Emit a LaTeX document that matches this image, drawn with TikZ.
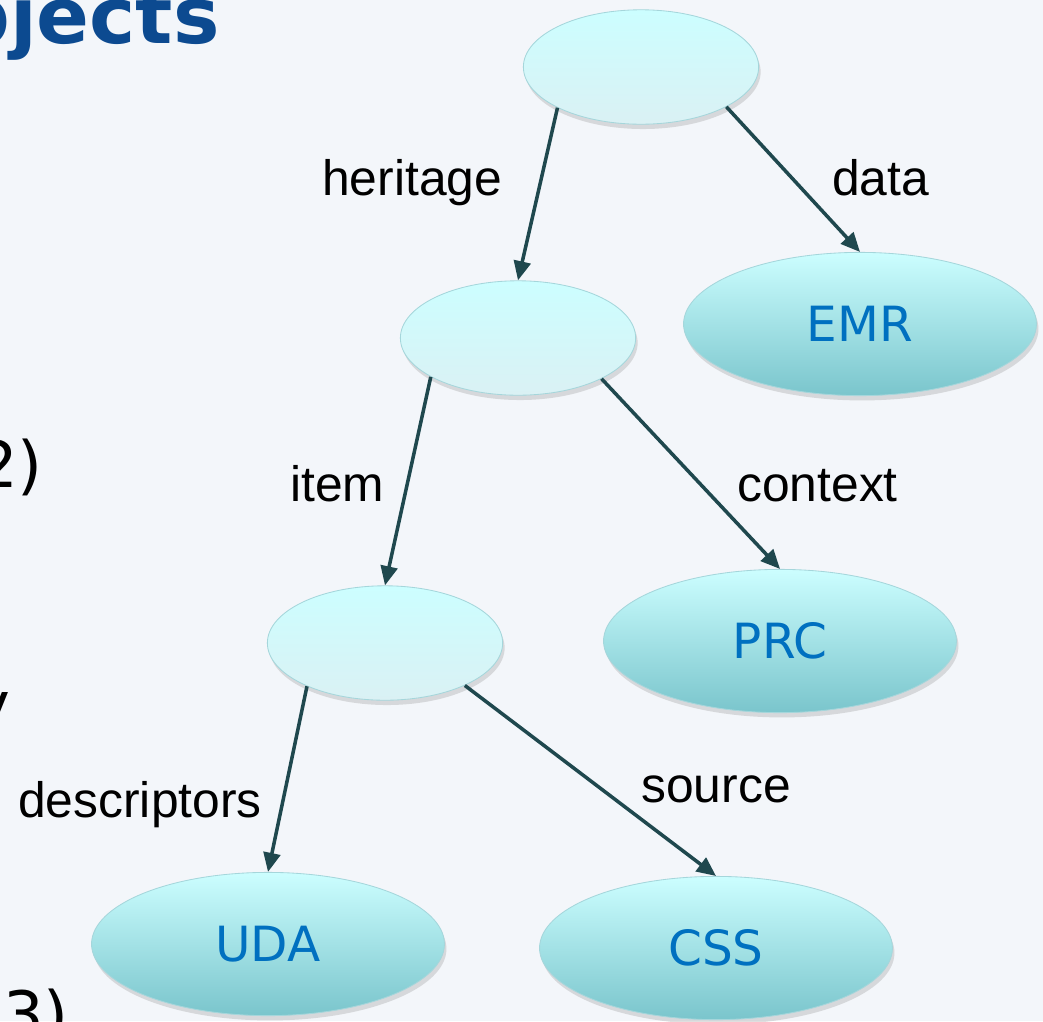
\documentclass[tikz,border=0pt]{standalone}
\definecolor{slidebg}{RGB}{243,246,250}
\definecolor{nodetop}{RGB}{204,254,255}
\definecolor{innerbottom}{RGB}{218,241,244}
\definecolor{leafbottom}{RGB}{122,197,204}
\definecolor{nodeborder}{RGB}{165,214,219}
\definecolor{edgeteal}{RGB}{31,72,78}
\definecolor{termblue}{RGB}{0,112,192}
\definecolor{titleblue}{RGB}{12,74,144}
\usepackage{fontspec}
\setmainfont{Liberation Sans}
\newfontfamily\verdanafont{DejaVu Sans}
\usepackage{tikz}
\usetikzlibrary{shapes.geometric,arrows.meta,shadows}

\begin{document}
\begin{tikzpicture}[
        x=0.025cm, y=-0.025cm,
        blank/.style={ellipse, draw=nodeborder, line width=0.6pt, top color=nodetop, bottom color=innerbottom, minimum width=5.88cm, minimum height=2.86cm, inner sep=0pt, drop shadow={shadow xshift=0.05cm, shadow yshift=-0.12cm, opacity=0.25}},
        term/.style={blank, bottom color=leafbottom, minimum width=8.82cm, minimum height=3.58cm, text=termblue, font=\verdanafont\fontsize{34.5}{40}\selectfont},
        edgelabel/.style={anchor=base west, inner sep=0pt, font=\fontsize{35.4}{42}\selectfont},
        slidetext/.style={inner sep=0pt, font=\verdanafont\fontsize{45.5}{54}\selectfont},
        arrow/.style={-{Triangle[length=0.48cm,width=0.42cm]}, line width=2.5pt, edgeteal}
    ]
        % Background
        \clip (0,0) rectangle (1043,1021);
        \fill[slidebg] (0,0) rectangle (1043,1021);

        % Slide text behind the tree
        \node[slidetext, anchor=base east, text=titleblue, font=\verdanafont\bfseries\fontsize{55.5}{66}\selectfont] (title) at (220,43) {Objects};
        \node[slidetext, anchor=base east] (bulletb) at (43,487) {2)};
        \node[slidetext, anchor=base east] (bulletc) at (11,727) {y};
        \node[slidetext, anchor=base west] (bulletd) at (3,1037) {3)};

        % Inner nodes
        \node[blank] (root) at (641,67) {};
        \node[blank] (heritage) at (518,338) {};
        \node[blank] (item) at (385,643) {};

        % Leaves
        \node[term] (emr) at (860,324) {EMR};
        \node[term] (prc) at (780,641) {PRC};
        \node[term] (uda) at (268,944) {UDA};
        \node[term] (css) at (716,948) {CSS};

        % Arrows
        \draw[arrow] (root.206) -- (heritage.north);
        \draw[arrow] (root.335) -- (emr.north);
        \draw[arrow] (heritage.204) -- (item.north);
        \draw[arrow] (heritage.334) -- (prc.north);
        \draw[arrow] (item.209) -- (uda.north);
        \draw[arrow] (item.332) -- (css.north);

        % Labels
        \node[edgelabel] (lheritage) at (322,195) {heritage};
        \node[edgelabel] (ldata) at (832,195) {data};
        \node[edgelabel] (litem) at (290,501) {item};
        \node[edgelabel] (lcontext) at (737,501) {context};
        \node[edgelabel] (ldescriptors) at (18,817) {descriptors};
        \node[edgelabel] (lsource) at (641,802) {source};
    \end{tikzpicture}
\end{document}
